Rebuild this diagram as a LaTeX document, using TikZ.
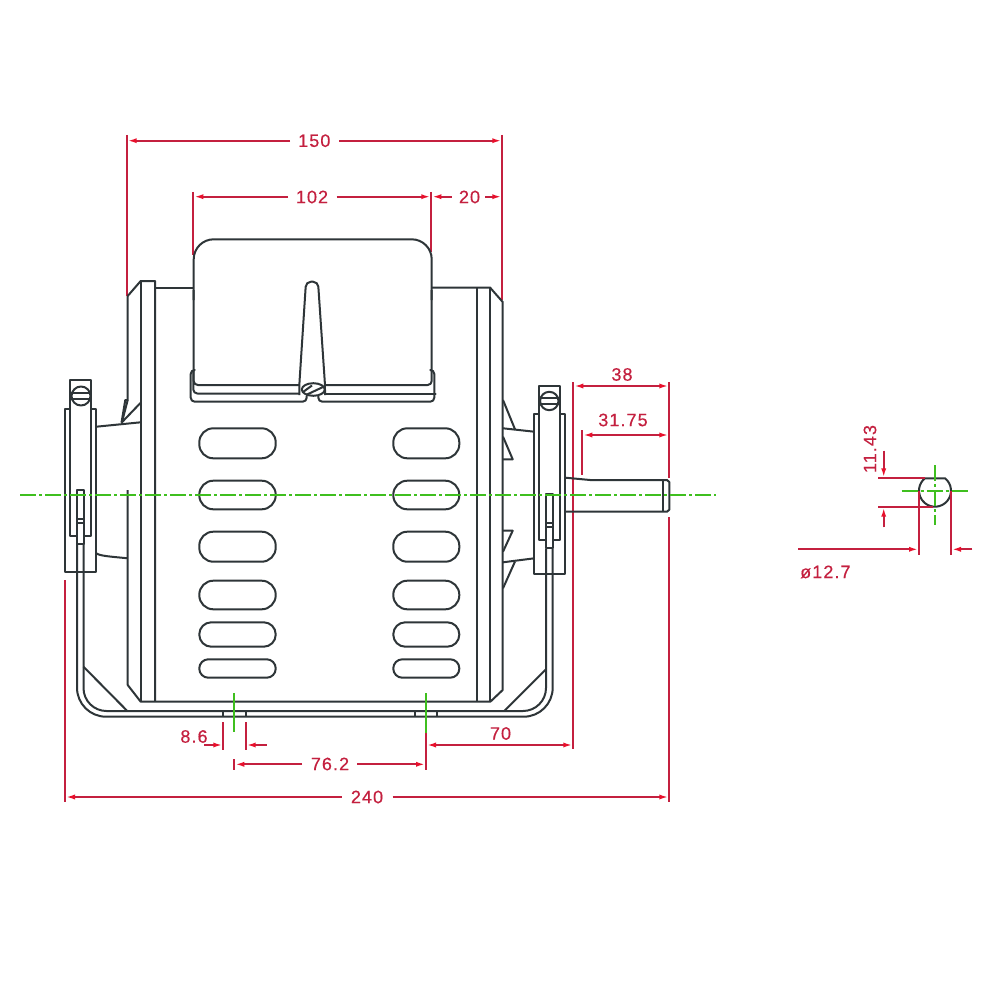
\documentclass[tikz,border=0pt]{standalone}
\usepackage{fontspec}
\setmainfont[LetterSpace=6,FakeBold=0.4]{Liberation Sans}
\usetikzlibrary{arrows.meta}
\definecolor{ink}{HTML}{2E3538}
\definecolor{dimred}{HTML}{C4203F}
\definecolor{tipred}{HTML}{E8102C}
\definecolor{axis}{HTML}{3FBF1F}
\tikzset{
  part/.style={draw=ink,line width=2pt,line join=round},
  dimline/.style={draw=dimred,line width=2pt},
  dimarrow/.style={dimline,-{Latex[length=10pt,width=5pt,color=tipred]}},
  label/.style={text=dimred,font=\fontsize{18}{20}\selectfont,inner sep=0pt},
  centre/.style={draw=axis,line width=2pt},
  chain/.style={centre,dash pattern=on 16pt off 3pt on 3pt off 3pt},
}
\newcommand{\myslot}[5]{\draw[part,rounded corners=#5pt] (#1,#3) rectangle (#2,#4);}
\begin{document}
\begin{tikzpicture}[x=1pt,y=-1pt]
\useasboundingbox (0,0) rectangle (1000,1000);
\fill[white] (0,0) rectangle (1000,1000);

% ---------- extension lines, under the drawing
\draw[dimline] (126.7,135) -- (126.7,296);
\draw[dimline] (502.3,135) -- (502.3,300);
\draw[dimline] (193.3,192) -- (193.3,255);
\draw[dimline] (431.3,192) -- (431.3,252);
\draw[dimline] (573.3,382) -- (573.3,749);
\draw[dimline] (669.3,382) -- (669.3,478);
\draw[dimline] (669.3,517) -- (669.3,802);
\draw[dimline] (582.3,430) -- (582.3,475);
\draw[dimline] (65,580) -- (65,802);
\draw[dimline] (223.3,722) -- (223.3,750);
\draw[dimline] (245.7,722) -- (245.7,750);
\draw[dimline] (234.3,759) -- (234.3,770);
\draw[dimline] (426,733) -- (426,769.5);

% ---------- terminal box
\draw[part,rounded corners=20pt] (193.7,300) -- (193.7,239.3) -- (431.7,239.3) -- (431.7,300);
\draw[part,rounded corners=4pt] (193.7,290) -- (193.7,385) -- (299.3,385);
\draw[part,rounded corners=4pt] (325,385) -- (431.7,385) -- (431.7,290);
\draw[part,rounded corners=4pt] (193.3,370) -- (193.3,393.5) -- (299.3,393.5);
\draw[part,rounded corners=4pt] (325,393.5) -- (431.7,393.5) -- (434.3,393.5);
\draw[part,rounded corners=4pt] (193.3,370) -- (190.7,370) -- (190.7,401.7) -- (306.7,401.7) -- (306.7,396);
\draw[part,rounded corners=4pt] (318.3,396) -- (318.3,401.7) -- (434.3,401.7) -- (434.3,370) -- (431.7,370);
% taper slot
\draw[part,rounded corners=5pt] (299.3,395) -- (299.3,385) -- (306,281.7) -- (318,281.7) -- (325,385) -- (325,395);
% terminal screw
\draw[part] (313.3,389.5) ellipse [x radius=11.5,y radius=6.3];
\draw[ink,line width=2pt] (303,392) -- (312,385.5);
\draw[ink,line width=2pt] (306,395) -- (323,387);

% ---------- frame
\draw[part] (193.7,287.5) -- (155,287.5);
\draw[part] (431.7,287.5) -- (490,287.5) -- (502.7,302) -- (502.7,690) -- (490,702);
\draw[part] (127.7,296) -- (140.7,281) -- (155,281) -- (155,701.7);
\draw[part] (140.7,281) -- (140.7,701.7);
\draw[part] (477.3,287.5) -- (477.3,702);
\draw[part] (490,287.5) -- (490,702);
\draw[part] (127.7,490) -- (127.7,685) -- (140.7,701.7) -- (490,701.7);
\draw[part] (127.7,296) -- (127.7,400) -- (125.3,400) -- (121.5,422.7);
\draw[part] (127.7,400) -- (122,422);
\draw[part] (140.7,402.7) -- (121.5,422.7);
\draw[part] (96.3,426.7) -- (140.7,422.3);
\draw[part] (96.3,553.3) .. controls (100,556) and (110,556.5) .. (127.7,558.3);

% right fan
\draw[part] (503,400) -- (515,429.3);
\draw[part] (503,428.3) -- (534.3,431.7);
\draw[part] (503,436.7) -- (512.7,459.3) -- (503,459.3);
\draw[part] (503,530.7) -- (512.7,530.7) -- (503,551.7);
\draw[part] (503,562.3) -- (534.3,558.3);
\draw[part] (515,561.5) -- (503,588.3);

% ---------- vent slots
\foreach \ya/\yb/\r in {428.3/458.3/14,480.7/509.3/14,531.7/561.7/14,580.7/609.3/14,622.3/646.7/12,659.3/677.7/9}{
  \myslot{199.3}{275.7}{\ya}{\yb}{\r}
  \myslot{393.3}{459.3}{\ya}{\yb}{\r}
}

% ---------- left bracket
\draw[part] (70,409) -- (65,409) -- (65,571.7) -- (96.3,571.7) -- (96.3,409) -- (91,409);
\draw[part] (77,536) -- (70,536) -- (70,380) -- (91,380) -- (91,536) -- (83.5,536);
\draw[part] (81,396) circle [radius=9.5];
\draw[part] (71.5,393) -- (90.5,393);
\draw[part] (71.5,399) -- (90.5,399);
\draw[part] (77,490) rectangle (83.5,544);
\draw[part] (77,519.3) -- (83.5,519.3);
\draw[part] (77,522.7) -- (83.5,522.7);

% ---------- right bracket
\draw[part] (539.3,414.3) -- (534.3,414.3) -- (534.3,574.3) -- (565,574.3) -- (565,414.3) -- (560,414.3);
\draw[part] (546,540) -- (539.3,540) -- (539.3,386) -- (560,386) -- (560,540) -- (552.7,540);
\draw[part] (549.3,401) circle [radius=9.2];
\draw[part] (540,398) -- (558.5,398);
\draw[part] (540,404) -- (558.5,404);
\draw[part] (546,494) rectangle (552.7,548.3);
\draw[part] (546,523.3) -- (552.7,523.3);
\draw[part] (546,526.7) -- (552.7,526.7);

% ---------- strap and base
\draw[part,rounded corners=29pt] (77,544) -- (77,716.7) -- (552.7,716.7) -- (552.7,548.3);
\draw[part,rounded corners=23pt] (83.5,544) -- (83.5,711) -- (546,711) -- (546,548.3);
\draw[part] (83.5,666.7) -- (127.3,711);
\draw[part] (546,669.3) -- (504.3,711);
\draw[part] (223.3,711) -- (223.3,716.7);
\draw[part] (245.7,711) -- (245.7,716.7);
\draw[part] (415,711) -- (415,716.7);
\draw[part] (437.3,711) -- (437.3,716.7);

% ---------- shaft
\draw[part] (565.5,477.7) -- (590,480) -- (667,480) -- (669.3,482) -- (669.3,509.7) -- (667,511.7) -- (565.5,511.7);
\draw[part] (663.3,480) -- (663.3,511.7);

% ---------- shaft section
\draw[part] (924.9,478.3) -- (945.1,478.3) arc [start angle=-50.8,end angle=230.8,radius=16] -- cycle;

% ---------- centre lines
\draw[chain] (20,495) -- (716,495);
\draw[centre] (234.3,693) -- (234.3,732);
\draw[centre] (426,693) -- (426,733);
\draw[chain] (901.7,490.7) -- (968,490.7);
\draw[chain] (935,465) -- (935,525);

% ---------- labels
\node[label] (d150) at (314.3,140.7) {150};
\node[label] (d102) at (312,197) {102};
\node[label] (d20) at (469.5,197) {20};
\node[label] (d38) at (622,374.5) {38};
\node[label] (d3175) at (623,420) {31.75};
\node[label] (d70) at (500.5,733.5) {70};
\node[label] (d86) at (194,736.5) {8.6};
\node[label] (d762) at (330,764) {76.2};
\node[label] (d240) at (367,797) {240};
\node[label,rotate=90] (d1143) at (870,449) {11.43};
\node[label,anchor=west] (d127) at (800,572) {ø12.7};

% ---------- dimension lines
\draw[dimarrow] (290,140.7) -- (126.7,140.7);
\draw[dimarrow] (339,140.7) -- (502.3,140.7);
\draw[dimarrow] (288,196.7) -- (193.3,196.7);
\draw[dimarrow] (336.5,196.7) -- (431.3,196.7);
\draw[dimarrow] (451.7,196.7) -- (431.3,196.7);
\draw[dimarrow] (485,196.7) -- (502.3,196.7);
\draw[dimarrow] (622,386) -- (573.3,386);
\draw[dimarrow] (622,386) -- (669.3,386);
\draw[dimarrow] (625,435) -- (582.3,435);
\draw[dimarrow] (625,435) -- (669.3,435);
\draw[dimarrow] (500,745) -- (426,745);
\draw[dimarrow] (500,745) -- (573.3,745);
\draw[dimarrow] (204,745) -- (223.3,745);
\draw[dimarrow] (266.7,745) -- (245.7,745);
\draw[dimarrow] (302,764.3) -- (234.3,764.3);
\draw[dimarrow] (357,764.3) -- (426,764.3);
\draw[dimarrow] (341.7,797) -- (65,797);
\draw[dimarrow] (392.7,797) -- (669.3,797);
% section dimensions
\draw[dimline] (878.3,478.3) -- (925,478.3);
\draw[dimline] (878.3,506.7) -- (933,506.7);
\draw[dimarrow] (883.7,450.7) -- (883.7,478.3);
\draw[dimarrow] (883.7,527.3) -- (883.7,506.7);
\draw[dimline] (919,491) -- (919,555);
\draw[dimline] (951,491) -- (951,555);
\draw[dimarrow] (798.3,549.3) -- (919,549.3);
\draw[dimarrow] (972.3,549.3) -- (951,549.3);
\end{tikzpicture}
\end{document}
